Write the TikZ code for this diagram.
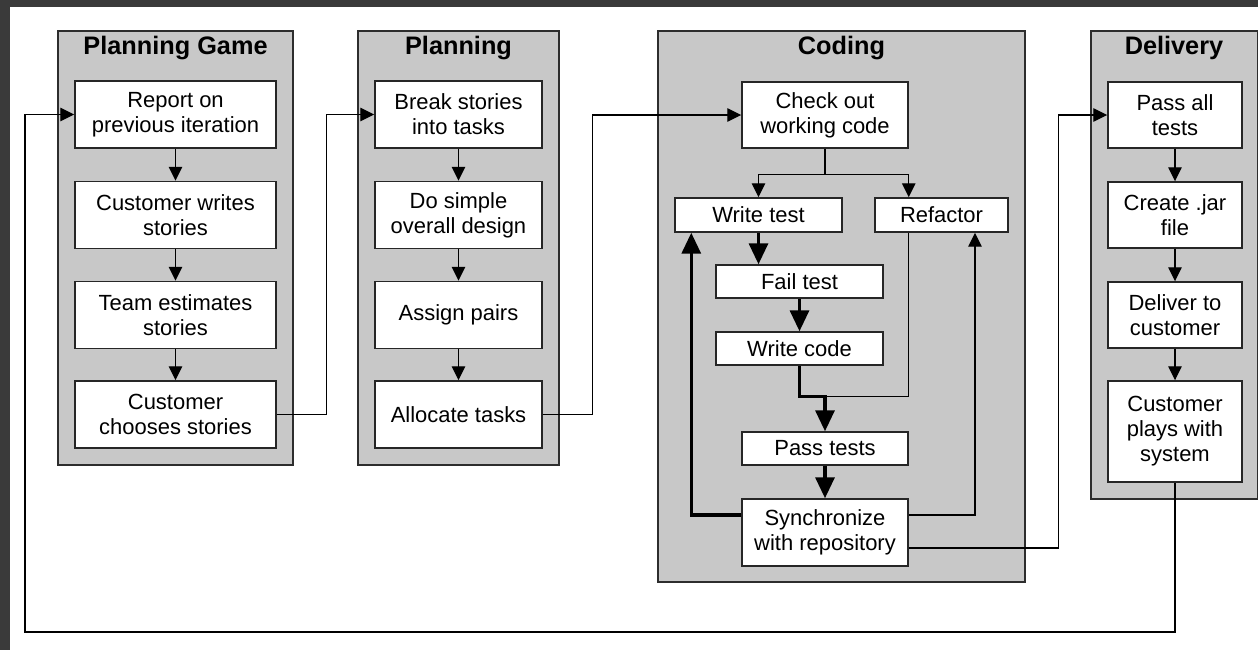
\documentclass[tikz,border=0pt]{standalone}
\usepackage{fontspec}
\setmainfont{Liberation Sans}
\usetikzlibrary{arrows.meta, calc}

\begin{document}
\begin{tikzpicture}[x=0.02cm, y=-0.02cm, >={Triangle[length=0.28cm, width=0.27cm]},
    font=\fontsize{12.5}{14.2}\selectfont,
    panel/.style={draw=panelline, fill=panelgray, line width=0.9pt},
    stepbox/.style={draw=black!85, fill=white, line width=0.85pt, align=center, inner sep=0pt},
    title/.style={font=\fontsize{14.4}{16}\selectfont\bfseries},
    flow/.style={line width=0.75pt, ->},
    tdd/.style={line width=1.9pt, -{Triangle[length=0.42cm, width=0.38cm]}}]
    % Define local colors
    \definecolor{panelgray}{RGB}{200,200,200} \definecolor{panelline}{RGB}{45,45,45}
    \definecolor{bgdark}{RGB}{58,58,58}

    \useasboundingbox (0,0) rectangle (1258,650);
    \fill[bgdark] (0,0) rectangle (1258,650);
    \fill[white] (10,7) rectangle (1258,650);

    % Phase panels
    \draw[panel] (58,31) rectangle (293,465);
    \draw[panel] (358,31) rectangle (559,465);
    \draw[panel] (658,31) rectangle (1025,582);
    \draw[panel] (1091,31) rectangle (1258,499);
    \node[title] (tpg) at (175.5,48) {Planning Game};
    \node[title] (tpl) at (458.5,48) {Planning};
    \node[title] (tco) at (841.5,48) {Coding};
    \node[title] (tdl) at (1174,48) {Delivery};

    % Planning Game column
    \foreach \i/\y/\txt in {1/114.5/{Report on\\previous iteration}, 2/215/{Customer writes\\stories},
                            3/315/{Team estimates\\stories}, 4/414.5/{Customer\\chooses stories}}
        \node[stepbox, minimum width=4.02cm, minimum height=1.34cm] (pg\i) at (175.5,\y) {\txt};

    % Planning column
    \foreach \i/\y/\txt in {1/114.5/{Break stories\\into tasks}, 2/215/{Do simple\\overall design},
                            3/315/{Assign pairs}, 4/414.5/{Allocate tasks}}
        \node[stepbox, minimum width=3.34cm, minimum height=1.34cm] (pl\i) at (458.5,\y) {\txt};

    % Delivery column
    \foreach \i/\y/\txt in {1/115/{Pass all\\tests}, 2/215/{Create .jar\\file}, 3/315/{Deliver to\\customer}}
        \node[stepbox, minimum width=2.68cm, minimum height=1.32cm] (dl\i) at (1175,\y) {\txt};
    \node[stepbox, minimum width=2.68cm, minimum height=2.02cm] (dl4) at (1175,431.5) {Customer\\plays with\\system};

    \foreach \i/\j in {1/2, 2/3, 3/4} {
        \draw[flow] (pg\i.south) -- (pg\j.north);
        \draw[flow] (pl\i.south) -- (pl\j.north);
        \draw[flow] (dl\i.south) -- (dl\j.north);
    }

    % Coding: test-driven loop
    \node[stepbox, minimum width=3.32cm, minimum height=1.32cm] (chk) at (825,115) {Check out\\working code};
    \node[stepbox, minimum width=3.34cm, minimum height=0.68cm] (wtest) at (758.5,215) {Write test};
    \node[stepbox, minimum width=2.66cm, minimum height=0.68cm] (refac) at (941.5,215) {Refactor};
    \node[stepbox, minimum width=3.34cm, minimum height=0.66cm] (fail) at (799.5,281.5) {Fail test};
    \node[stepbox, minimum width=3.34cm, minimum height=0.66cm] (wcode) at (799.5,348.5) {Write code};
    \node[stepbox, minimum width=3.32cm, minimum height=0.66cm] (pass) at (825,448.5) {Pass tests};
    \node[stepbox, minimum width=3.32cm, minimum height=1.34cm] (sync) at (825,532.5) {Synchronize\\with repository};

    \draw[line width=0.75pt] (chk.south) -- ++(0,26) coordinate (split);
    \draw[flow] (split) -| (wtest.north);
    \draw[flow] (split) -| (chk.east |- refac.north);
    \draw[tdd] (wtest.south) -- (wtest.south |- fail.north);
    \draw[tdd] (fail.south) -- (wcode.north);
    \draw[tdd] (wcode.south) -- ++(0,31) coordinate (kink) -| (pass.north);
    \draw[line width=0.75pt] (chk.east |- refac.south) |- (pass.north |- kink);
    \draw[tdd] (pass.south) -- (sync.north);
    \draw[tdd] ([yshift=0.35cm]sync.west) -| ([xshift=0.34cm]wtest.south west);
    \draw[flow] ([yshift=0.35cm]sync.east) -| ([xshift=0.67cm]refac.south);

    % Hand-offs between phases
    \draw[flow] (pg4.east) -- ++(50,0) |- (pl1.west);
    \draw[flow] (pl4.east) -- ++(50,0) |- (chk.west);
    \draw[flow] ([yshift=-0.31cm]sync.east) -- ++(150,0) |- (dl1.west);
    \coordinate (back) at (25,632);
    \draw[flow] (dl4.south) |- (back) |- (pg1.west);

\end{tikzpicture}
\end{document}
